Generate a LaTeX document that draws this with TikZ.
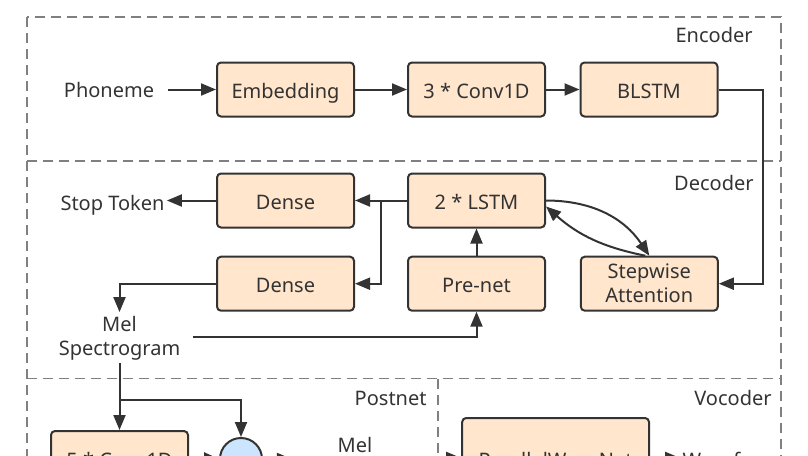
\documentclass[tikz,border=0pt]{standalone}
\usepackage{fontspec}
\setmainfont{Noto Sans}
\usepackage{xcolor}
\usepackage{tikz}
\usetikzlibrary{arrows.meta,positioning}

\definecolor{boxfill}{HTML}{FFE6CC}
\definecolor{sumfill}{HTML}{CCE5FF}
\definecolor{inkgray}{HTML}{333333}
\definecolor{dashgray}{HTML}{808080}

\tikzset{
  blk/.style={draw=inkgray, fill=boxfill, line width=1pt, rounded corners=2pt,
    minimum width=68.5pt, minimum height=27pt, inner sep=0pt,
    text height=9.6pt, text depth=0.5pt,
    text=inkgray, font=\fontsize{10}{12}\selectfont},
  twoline/.style={align=center, text height=, text depth=},
  txt/.style={inner sep=1pt, text height=9.6pt, text depth=0.5pt,
    text=inkgray, font=\fontsize{10}{12}\selectfont},
  reglabel/.style={anchor=east, inner sep=0pt, text height=9.6pt, text depth=0.5pt,
    text=inkgray, font=\fontsize{10}{12}\selectfont},
  region/.style={draw=dashgray, line width=0.6pt, dash pattern=on 5pt off 3pt},
  sumnode/.style={circle, draw=inkgray, fill=sumfill, line width=1pt, minimum size=21pt, inner sep=0pt},
  wire/.style={draw=inkgray, line width=1pt},
  flow/.style={wire, -{Triangle[length=7.5pt,width=6pt]}},
}

\begin{document}
\begin{tikzpicture}[x=0.5pt, y=-0.5pt]
    \useasboundingbox (0,0) rectangle (808,455);
    \begin{scope}
    \clip (0,0) rectangle (808,455);

    % Regions
    \draw[region] (27,17) rectangle (781,520);
    \draw[region] (27,161) -- (781,161);
    \draw[region] (27,378.5) -- (781,378.5);
    \draw[region] (438,378.5) -- (438,520);
    \node[reglabel] (enclabel) at (753,33) {Encoder};
    \node[reglabel] (declabel) at (754,181) {Decoder};
    \node[reglabel] (postlabel) at (427,396) {Postnet};
    \node[reglabel] (voclabel) at (772,396) {Vocoder};

    % Encoder
    \node[txt] (phon) at (109,88) {Phoneme};
    \node[blk] (emb) at (285.5,89.5) {Embedding};
    \node[blk] (conv) at (476.5,89.5) {3 * Conv1D};
    \node[blk] (blstm) at (649,89.5) {BLSTM};
    \draw[flow, shorten <=6pt] (phon.east |- emb.west) -- (emb.west);
    \draw[flow] (emb) -- (conv);
    \draw[flow] (conv) -- (blstm);

    % Decoder
    \node[blk] (dns1) at (285.5,200.5) {Dense};
    \node[blk] (dns2) at (285.5,283.7) {Dense};
    \node[blk] (lstm) at (476.5,200.5) {2 * LSTM};
    \node[blk] (pre) at (476.5,283.7) {Pre-net};
    \node[blk, twoline] (att) at (649.3,283.7) {Stepwise\\Attention};
    \node[txt] (stop) at (112.5,201) {Stop Token};
    \node[txt, twoline] (mel) at (119.5,338.5) {Mel\\Spectrogram};
    \coordinate (turn) at (763,89.5);
    \coordinate (fork) at (381,200.5);
    \draw[flow] (blstm.east) -- (turn) |- (att.east);
    \draw[flow] (lstm.west) -- (dns1.east);
    \draw[flow] (fork) |- (dns2.east);
    \draw[flow] (dns1.west) -- (stop.east |- dns1.west);
    \draw[flow] (dns2.west) -| ([yshift=1pt]mel.north);
    \draw[flow] ([xshift=5pt,yshift=1pt]mel.east) -| (pre.south);
    \draw[flow] (pre) -- (lstm);
    \draw[flow] (lstm.east) to[bend left=28] (att.north);
    \draw[flow] ([xshift=-2pt]att.north) to[bend left=15] ([yshift=-3pt]lstm.east);

    % Postnet
    \node[blk] (conv5) at (119.5,458) {5 * Conv1D};
    \node[sumnode] (add) at (241,459) {};
    \node[txt, twoline] (mel2) at (355,459) {Mel\\Spectrogram};
    \coordinate (split) at (119.5,400);
    \draw[wire] (mel.south) -- (split);
    \draw[flow] (split) -- (conv5.north);
    \draw[flow] (split) -| (add.north);
    \draw[flow] (conv5.east) -- (add.west);
    \draw[flow] (add.east) -- (mel2.west |- add.east);

    % Vocoder
    \node[blk, minimum width=93.4pt, minimum height=40pt] (pwn) at (555.6,458) {ParallelWaveNet};
    \node[txt] (wave) at (731,458) {Waveform};
    \draw[flow] (mel2.east |- pwn.west) -- (pwn.west);
    \draw[flow] (pwn) -- (wave);
    \end{scope}
\end{tikzpicture}
\end{document}
